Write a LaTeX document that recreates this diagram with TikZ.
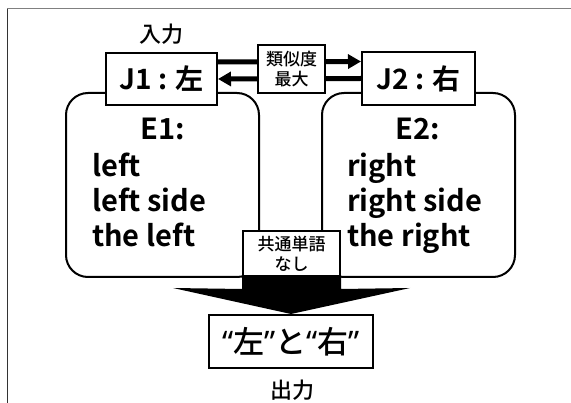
\documentclass[tikz,border=0pt]{standalone}
\usepackage{fontspec}
\setmainfont{Noto Sans CJK JP}[BoldFont={* Bold}]
\newfontfamily\jpmed{Noto Sans CJK JP}[UprightFont={* Medium}]
\newfontfamily\qfont{Noto Sans}
\newcommand{\lqm}{{\qfont\bfseries “}}
\newcommand{\rqm}{{\qfont\bfseries ”}}
\usetikzlibrary{arrows.meta}
\begin{document}
\begin{tikzpicture}[x=1pt,y=-1pt,
  box/.style={draw, line width=2pt, fill=white, inner sep=0pt},
  ebox/.style={draw, line width=2pt, rounded corners=22pt, fill=white, inner sep=0pt, minimum width=193pt, minimum height=184pt},
  big/.style={font=\bfseries\fontsize{29}{29}\selectfont, inner sep=0pt},
  jfont/.style={font=\bfseries\fontsize{28}{28}\selectfont, inner sep=0pt},
  small/.style={font=\jpmed\fontsize{17}{20}\selectfont, align=center, inner sep=0pt},
  lbl/.style={font=\jpmed\fontsize{22}{22}\selectfont, inner sep=0pt},
  fatarrow/.style={line width=5pt, -{Triangle[length=13pt,width=14pt]}}
]
\useasboundingbox (0,0) rectangle (571,403);
% frame
\coordinate (fa) at (7,9);
\coordinate (fb) at (571,9);
\coordinate (fc) at (7,403);
\draw[gray, line width=1pt] (fa) -- (fb);
\draw[black!80, line width=1pt] (fa) -- (fc);
% rounded boxes
\node[ebox] (E1) at (162.5,185) {};
\node[ebox] (E2) at (418.5,185) {};
% J boxes
\node[box, jfont, minimum width=111pt, minimum height=52pt] (J1) at (161.5,79) {J1 : 左};
\node[box, jfont, minimum width=113pt, minimum height=53pt] (J2) at (418.5,78.5) {J2 : 右};
\node[lbl] (in) at (161,34) {入力};
% arrows
\draw[fatarrow] ([yshift=17pt]J1.east) -- ([yshift=17pt]J2.west);
\draw[fatarrow] (J2.west) -- (J1.east);
\node[box, small, minimum width=67pt, minimum height=48pt] (sim) at (291.5,69) {類似度\\最大};
% E texts
\node[big, anchor=base] (e1h) at (163,140) {E1:};
\node[big, anchor=base west] (e1a) at (92,177) {left};
\node[big, anchor=base west] (e1b) at (92,212) {left side};
\node[big, anchor=base west] (e1c) at (92,247) {the left};
\node[big, anchor=base] (e2h) at (418,140) {E2:};
\node[big, anchor=base west] (e2a) at (347,177) {right};
\node[big, anchor=base west] (e2b) at (347,212) {right side};
\node[big, anchor=base west] (e2c) at (347,247) {the right};
% common box and big arrow
\node[box, small, minimum width=97pt, minimum height=45pt] (K) at (291.5,253.5) {共通単語\\なし};
\node[box, font=\jpmed\fontsize{31}{31}\selectfont, minimum width=164pt, minimum height=53pt] (O) at (291,341.5) {\lqm 左\rqm と\lqm 右\rqm};
\fill (K.south west) -- (K.south east) -- ++(0,12) -- (410,288) -- (O.north) -- (173,288) -- ([yshift=-12pt]K.south west) -- cycle;
\node[lbl] (out) at (292,390) {出力};
\end{tikzpicture}
\end{document}
